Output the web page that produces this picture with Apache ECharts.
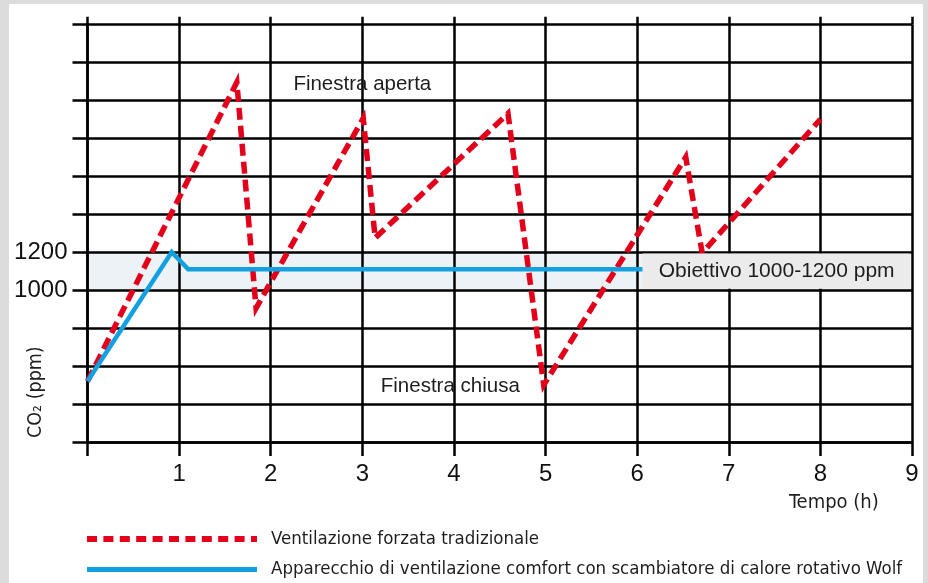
<!DOCTYPE html>
<html>
<head>
<meta charset="utf-8">
<script src="https://cdn.jsdelivr.net/npm/echarts@6/dist/echarts.min.js"></script>
<style>
  html, body { margin: 0; padding: 0; background: #dcdcdc; width: 928px; height: 583px; overflow: hidden; }
  #chart { position: absolute; left: 9px; top: 4px; width: 914px; height: 579px; background: #ffffff; }
</style>
</head>
<body>
<div id="chart"></div>
<script>
// ---- data (time in hours, CO2 in ppm) ----
const seriesNames = ['Ventilazione forzata tradizionale', 'Apparecchio di ventilazione comfort con scambiatore di calore rotativo Wolf'];
const redTime = [0, 1.63, 1.84, 3.01, 3.14, 4.59, 4.98, 6.53, 6.71, 8.0];
const redCO2  = [520, 2095, 905, 1905, 1275, 1930, 500, 1700, 1195, 1900];
const blueTime = [0, 0.92, 1.10, 6.06];
const blueCO2  = [520, 1200, 1110, 1110];
const yTickLabels = [1000, 1200];
const xTickLabels = [1, 2, 3, 4, 5, 6, 7, 8, 9];
const targetBand = [1000, 1200];
const targetLabel = 'Obiettivo 1000-1200 ppm';
const notes = [
  { text: 'Finestra aperta', t: 3.0, v: 2086 },
  { text: 'Finestra chiusa', t: 3.96, v: 495 }
];

const condensed = "'Liberation Sans Narrow', 'DejaVu Sans Condensed', 'Roboto', sans-serif";
const plain = "'Liberation Sans', Arial, sans-serif";
const red = '#e2001a';
const blue = '#12a0e0';
const gridCol = '#000000';
const textCol = '#1e1e1e';

const chart = echarts.init(document.getElementById('chart'), null, { renderer: 'canvas' });
chart.setOption({
  animation: false,
  backgroundColor: '#ffffff',
  grid: { left: 78.5, right: 11, top: 20.3, bottom: 141 },
  xAxis: [{
    type: 'value', position: 'bottom', min: 0, max: 9, interval: 1, z: 2,
    axisLine: { show: true, lineStyle: { color: gridCol, width: 2.5 } },
    axisTick: { show: true, inside: false, length: 14, lineStyle: { color: gridCol, width: 2.5 } },
    splitLine: { show: true, lineStyle: { color: gridCol, width: 2.5 } },
    axisLabel: {
      margin: 20, fontSize: 24, color: '#111', fontFamily: plain,
      formatter: v => xTickLabels.includes(v) ? String(v) : ''
    }
  }, {
    type: 'value', position: 'top', min: 0, max: 9, interval: 1, z: 2,
    axisLine: { show: false },
    axisTick: { show: true, inside: false, length: 7.5, lineStyle: { color: gridCol, width: 2.5 } },
    splitLine: { show: false },
    axisLabel: { show: false }
  }],
  yAxis: {
    type: 'value', min: 200, max: 2400, interval: 200, z: 2,
    axisLine: { show: true, lineStyle: { color: gridCol, width: 2.5 } },
    axisTick: { show: true, inside: false, length: 15, lineStyle: { color: gridCol, width: 2.5 } },
    splitLine: { show: true, lineStyle: { color: gridCol, width: 2.5 } },
    axisLabel: {
      margin: 20, fontSize: 24, color: '#111', fontFamily: plain,
      formatter: v => yTickLabels.includes(v) ? String(v) : ''
    }
  },
  series: [{
    name: seriesNames[0], type: 'line', z: 3,
    data: redTime.map((t, i) => [t, redCO2[i]]),
    symbol: 'none', showSymbol: false,
    itemStyle: { color: red },
    lineStyle: { color: red, width: 5.5, type: [12, 6], cap: 'butt', join: 'miter' },
    markPoint: {
      z: 5, symbol: 'circle', symbolSize: 0,
      label: { show: true, position: 'inside', formatter: p => p.name, fontSize: 20.5, color: textCol, fontFamily: plain },
      data: notes.map(n => ({ name: n.text, coord: [n.t, n.v] }))
    },
    markArea: {
      z: 4, silent: true,
      itemStyle: { color: '#ebebeb' },
      label: { show: true, position: 'inside', fontSize: 21, color: textCol, fontFamily: plain },
      data: [[{ name: targetLabel, coord: [blueTime[blueTime.length - 1], targetBand[0] + 7] }, { coord: [8.985, targetBand[1] - 7] }]]
    }
  }, {
    name: seriesNames[1], type: 'line', z: 3,
    data: blueTime.map((t, i) => [t, blueCO2[i]]),
    symbol: 'none', showSymbol: false,
    itemStyle: { color: blue },
    lineStyle: { color: blue, width: 4.5, join: 'miter' },
    markArea: {
      z: 1, silent: true,
      itemStyle: { color: '#edf2f6' },
      data: [[{ yAxis: targetBand[0] }, { yAxis: targetBand[1] }]]
    }
  }],
  graphic: [{
    type: 'text', z: 10,
    left: 780, top: 489,
    style: { text: 'Tempo (h)', fontSize: 20, fill: textCol, fontFamily: condensed }
  }, {
    type: 'text', z: 10,
    x: 17, y: 434, rotation: Math.PI / 2,
    style: { text: 'CO₂ (ppm)', fontSize: 19.5, fill: textCol, fontFamily: condensed }
  },
  // legend
  {
    type: 'line', z: 10,
    shape: { x1: 78, y1: 535, x2: 248, y2: 535 },
    style: { stroke: red, lineWidth: 6, lineDash: [10, 6.4] }
  }, {
    type: 'text', z: 10,
    x: 262, y: 535,
    style: { text: seriesNames[0], fontSize: 18.5, fill: textCol, fontFamily: condensed, verticalAlign: 'middle' }
  }, {
    type: 'line', z: 10,
    shape: { x1: 78, y1: 565.5, x2: 248, y2: 565.5 },
    style: { stroke: blue, lineWidth: 5 }
  }, {
    type: 'text', z: 10,
    x: 262, y: 565,
    style: { text: seriesNames[1], fontSize: 18.5, fill: textCol, fontFamily: condensed, verticalAlign: 'middle' }
  }]
});
</script>
</body>
</html>
